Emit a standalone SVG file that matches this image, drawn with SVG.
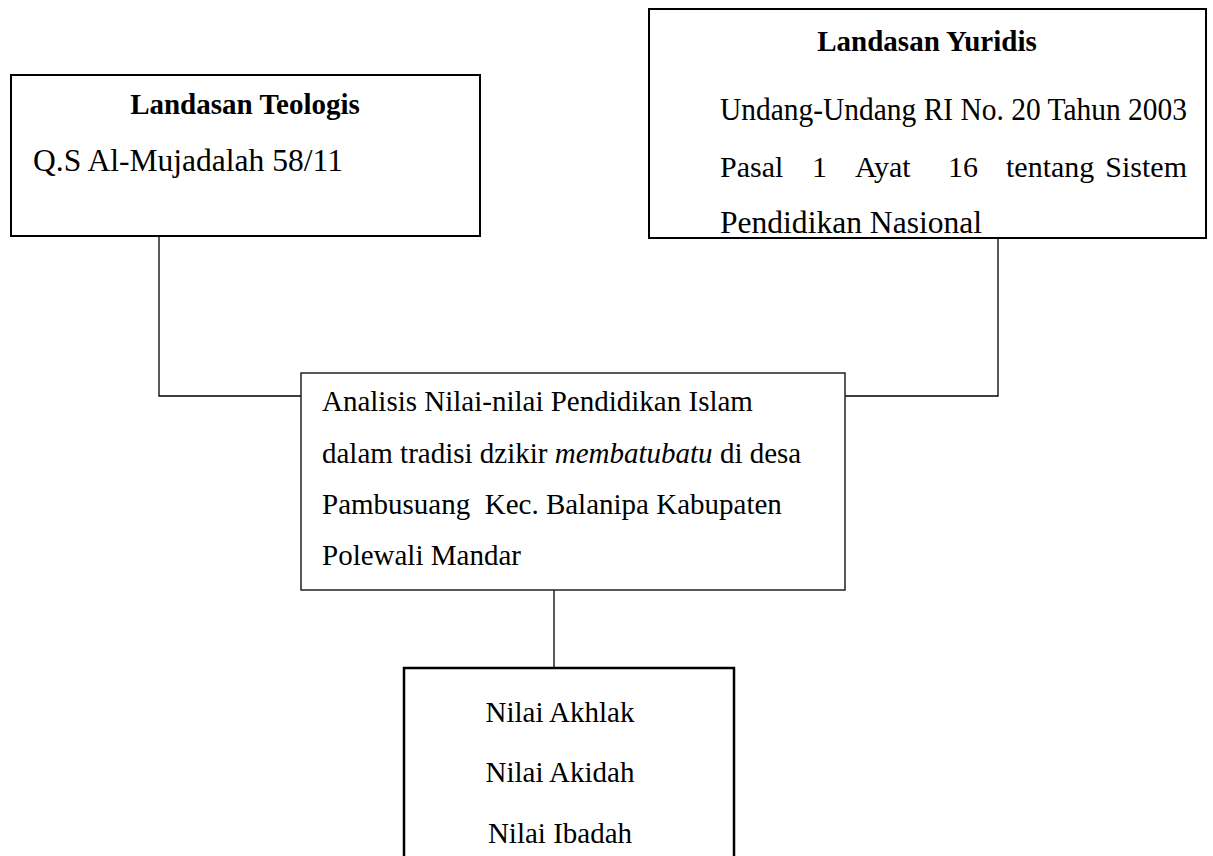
<svg xmlns="http://www.w3.org/2000/svg" width="1213" height="856" viewBox="0 0 1213 856">
<style>
.box{fill:#fff;stroke:#000;stroke-width:2}
.thin{fill:#fff;stroke:#222;stroke-width:1.5}
.con{fill:none;stroke:#000;stroke-width:1.3}
text{font-family:"Liberation Serif","Times New Roman",serif;font-size:29px;fill:#000;white-space:pre}
.b{font-size:31px}
.t{font-weight:bold;text-anchor:middle}
.c{text-anchor:middle}
</style>
<rect width="1213" height="856" fill="#fff"/>
<g id="connectors">
<polyline class="con" points="159,236 159,396 301,396"/>
<polyline class="con" points="845,396 998,396 998,238"/>
<line class="con" x1="554" y1="590" x2="554" y2="668"/>
</g>
<g id="teologis">
<rect class="box" x="11" y="75" width="469" height="161"/>
<text class="t" x="245" y="114">Landasan Teologis</text>
<text class="b" x="33" y="171" textLength="310" lengthAdjust="spacingAndGlyphs">Q.S Al-Mujadalah 58/11</text>
</g>
<g id="yuridis">
<rect class="box" x="649" y="9" width="557" height="229"/>
<text class="t" x="927" y="51">Landasan Yuridis</text>
<text class="b" x="720" y="120" textLength="467" lengthAdjust="spacingAndGlyphs">Undang-Undang RI No. 20 Tahun 2003</text>
<text y="177" style="font-size:30px"><tspan x="720">Pasal</tspan><tspan x="812">1</tspan><tspan x="855">Ayat</tspan><tspan x="948">16</tspan><tspan x="1006">tentang</tspan><tspan x="1187" text-anchor="end">Sistem</tspan></text>
<text class="b" x="720" y="233" textLength="262" lengthAdjust="spacingAndGlyphs">Pendidikan Nasional</text>
</g>
<g id="analisis">
<rect class="thin" x="301" y="373" width="544" height="217"/>
<text x="322" y="411">Analisis Nilai-nilai Pendidikan Islam</text>
<text x="322" y="463">dalam tradisi dzikir <tspan font-style="italic">membatubatu</tspan> di desa</text>
<text x="322" y="514">Pambusuang  Kec. Balanipa Kabupaten</text>
<text x="322" y="565">Polewali Mandar</text>
</g>
<g id="nilai">
<rect class="box" x="404" y="668" width="330" height="200" style="stroke-width:2.5"/>
<text class="c" x="560" y="722">Nilai Akhlak</text>
<text class="c" x="560" y="782">Nilai Akidah</text>
<text class="c" x="560" y="843">Nilai Ibadah</text>
</g>
</svg>
